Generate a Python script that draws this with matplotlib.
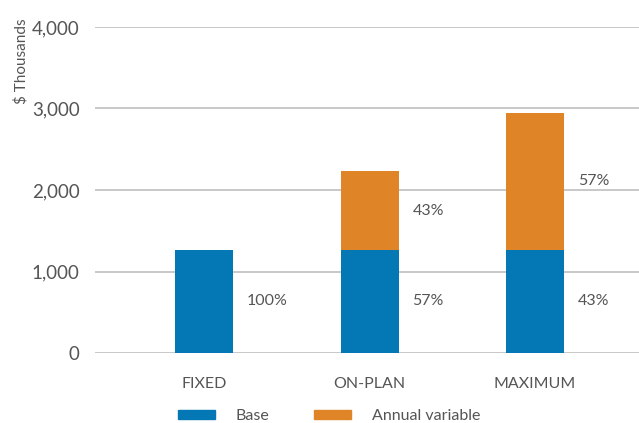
import matplotlib
matplotlib.use("Agg")
import matplotlib.pyplot as plt
from matplotlib.patches import Patch

categories = ["FIXED", "ON-PLAN", "MAXIMUM"]
base = [1265, 1265, 1265]
variable = [0, 965, 1680]
base_pct = ["100%", "57%", "43%"]
variable_pct = ["", "43%", "57%"]
yticks = [0, 1000, 2000, 3000, 4000]
ytick_labels = ["0", "1,000", "2,000", "3,000", "4,000"]

BLUE = "#0477B5"
ORANGE = "#E08428"
TEXT = "#555555"
GRID = "#C4C4C4"

plt.rcParams["font.family"] = ["Lato", "DejaVu Sans"]

fig = plt.figure(figsize=(6.39, 4.23), dpi=100)
W, H = 639, 423
ax = fig.add_axes([95 / W, 1 - 353 / H, (639 - 95) / W, (353 - 27) / H])

x = list(range(len(categories)))
width = 0.35
ax.bar(x, base, width, color=BLUE, zorder=3, label="Base")
ax.bar(x, variable, width, bottom=base, color=ORANGE, zorder=3, label="Annual variable")

for i in x:
    ax.text(i + 0.26, base[i] / 2, base_pct[i], ha="left", va="center",
            fontsize=11.5, color=TEXT)
    if variable[i] > 0:
        ax.text(i + 0.26, base[i] + variable[i] / 2, variable_pct[i], ha="left",
                va="center", fontsize=11.5, color=TEXT)

ax.set_ylim(0, 4000)
ax.set_xlim(-0.659, 2.628)
ax.set_yticks(yticks)
ax.set_yticklabels(ytick_labels, fontsize=13.5, color=TEXT)
ax.set_xticks(x)
ax.set_xticklabels(categories, fontsize=11.5, color=TEXT)
ax.tick_params(axis="y", length=0, pad=11)
ax.tick_params(axis="x", length=0, pad=17)
for s in ax.spines.values():
    s.set_visible(False)
ax.yaxis.grid(True, color=GRID, linewidth=1.3, zorder=0)
ax.set_axisbelow(True)

fig.text(21 / W, 1 - 18 / H, "$ Thousands", rotation=90, ha="center", va="top",
         fontsize=11, color=TEXT)

handles = [Patch(color=BLUE), Patch(color=ORANGE)]
fig.legend(handles, ["Base", "Annual variable"], loc="center",
           bbox_to_anchor=(329 / W, 1 - 416 / H), bbox_transform=fig.transFigure,
           ncol=2, frameon=False, fontsize=11.5, labelcolor=TEXT,
           handlelength=2.3, handleheight=0.5, handletextpad=1.3,
           columnspacing=2.8)

fig.savefig("out.png", dpi=100)
